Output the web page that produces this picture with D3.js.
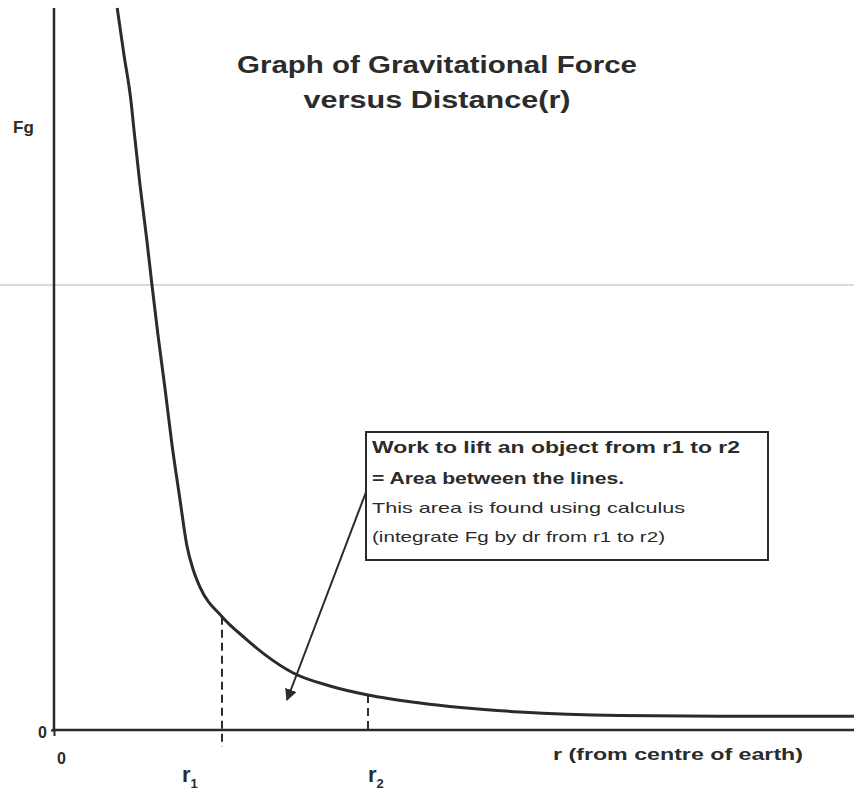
<!DOCTYPE html>
<html>
<head>
<meta charset="utf-8">
<script src="https://cdn.jsdelivr.net/npm/d3@7"></script>
<style>
  body { margin: 0; background: #fff; }
  text { font-family: "Liberation Sans", Arial, sans-serif; fill: #2b2b2b; }
</style>
</head>
<body>
<div id="chart"></div>
<script>
var width = 854,
    height = 791;

// distance r (arbitrary units) and force Fg
var rValues  = [7.9, 8.75, 9.6, 10.0, 10.75, 11.6, 12.25, 13.0, 13.9, 14.75, 15.75, 16.6, 17.4, 18.25, 21.0, 23.9, 26.4, 29.9, 34.5, 39.25, 45.75, 58.25, 70.75, 83.25, 100];
var fgValues = [100, 93.5, 87.3, 83.1, 75.5, 67.9, 61.6, 54.7, 47.1, 39.5, 31.9, 25.6, 22.2, 19.8, 15.7, 12.7, 10.4, 7.9, 6.1, 4.85, 3.75, 2.5, 2.0, 1.9, 1.9];

var marks = [{name: "1", r: 21.0, fg: 15.7, below: 17},
             {name: "2", r: 39.25, fg: 4.85, below: 0}];

var titleLines = ["Graph of Gravitational Force", "versus Distance(r)"];
var boxLines = [{t: "Work to lift an object from r1 to r2", bold: true, len: 368},
                {t: "= Area between the lines.", bold: true, len: 252},
                {t: "This area is found using calculus", bold: false, len: 313},
                {t: "(integrate Fg by dr from r1 to r2)", bold: false, len: 293}];

var x = d3.scaleLinear().domain([0, 100]).range([54, 854]);
var y = d3.scaleLinear().domain([0, 100]).range([730, 8]);

var svg = d3.select("#chart").append("svg")
    .attr("width", width)
    .attr("height", height);

// faint horizontal fold line of the scan
svg.append("line")
    .attr("x1", 0).attr("x2", width)
    .attr("y1", 285).attr("y2", 285)
    .style("stroke", "#dadada")
    .style("stroke-width", 2);

// axes
var yAxis = svg.append("g")
    .attr("transform", "translate(" + x(0) + ",0)")
    .call(d3.axisLeft(y).tickValues([0]).tickSize(3).tickPadding(4));
yAxis.select(".domain").remove();
yAxis.selectAll("text").style("font-size", "16px").style("font-weight", "bold").attr("dy", "0.45em");
yAxis.selectAll("line").style("stroke", "#2b2b2b").style("stroke-width", 2);

var xAxis = svg.append("g")
    .attr("transform", "translate(0," + y(0) + ")")
    .call(d3.axisBottom(x).tickValues([0]).tickSize(6).tickPadding(17));
xAxis.select(".domain").remove();
xAxis.selectAll("text").style("font-size", "16px").style("font-weight", "bold").attr("dx", 7);
xAxis.selectAll("line").style("stroke", "#2b2b2b").style("stroke-width", 2);

svg.append("line")
    .attr("x1", x(0)).attr("x2", x(0))
    .attr("y1", y(100)).attr("y2", y(0))
    .style("stroke", "#2b2b2b").style("stroke-width", 2.5);
svg.append("line")
    .attr("x1", x(0) - 2).attr("x2", x(100))
    .attr("y1", y(0)).attr("y2", y(0))
    .style("stroke", "#2b2b2b").style("stroke-width", 2.5);

// axis titles
svg.append("text")
    .attr("x", 13).attr("y", 133)
    .style("font-size", "17px").style("font-weight", "bold")
    .text("Fg");

svg.append("text")
    .attr("x", 553).attr("y", 760)
    .attr("textLength", 250).attr("lengthAdjust", "spacingAndGlyphs")
    .style("font-size", "16px").style("font-weight", "bold")
    .text("r (from centre of earth)");

// title
svg.selectAll(".title").data(titleLines).enter().append("text")
    .attr("class", "title")
    .attr("x", 437)
    .attr("y", function(d, i) { return 73 + i * 35; })
    .attr("text-anchor", "middle")
    .attr("textLength", function(d, i) { return i == 0 ? 400 : 267; })
    .attr("lengthAdjust", "spacingAndGlyphs")
    .style("font-size", "23px").style("font-weight", "bold")
    .text(function(d) { return d; });

// r1, r2 dashed drops
marks.forEach(function(m) {
  svg.append("line")
      .attr("x1", x(m.r)).attr("x2", x(m.r))
      .attr("y1", y(m.fg)).attr("y2", y(0) + m.below)
      .style("stroke", "#2b2b2b")
      .style("stroke-width", 2)
      .style("stroke-dasharray", "8,5");

  var lab = svg.append("text")
      .attr("x", x(m.r) + (m.name == "1" ? -40 : 0))
      .attr("y", 782)
      .style("font-size", "22px").style("font-weight", "bold");
  lab.append("tspan").text("r");
  lab.append("tspan").attr("dy", 6).style("font-size", "13px").text(m.name);
});

// the curve
var pts = rValues.map(function(r, i) { return [r, fgValues[i]]; });
var line = d3.line()
    .x(function(d) { return x(d[0]); })
    .y(function(d) { return y(d[1]); })
    .curve(d3.curveMonotoneX);

svg.append("path")
    .datum(pts)
    .attr("d", line)
    .style("fill", "none")
    .style("stroke", "#2b2b2b")
    .style("stroke-width", 3);

// annotation box
svg.append("defs").append("marker")
    .attr("id", "head")
    .attr("viewBox", "0 0 10 10")
    .attr("refX", 9).attr("refY", 5)
    .attr("markerWidth", 6).attr("markerHeight", 6)
    .attr("markerUnits", "strokeWidth")
    .attr("orient", "auto")
  .append("path")
    .attr("d", "M0,0L10,5L0,10z")
    .style("fill", "#2b2b2b");

svg.append("line")
    .attr("x1", 366).attr("y1", 492)
    .attr("x2", 287).attr("y2", 700)
    .style("stroke", "#2b2b2b")
    .style("stroke-width", 2)
    .attr("marker-end", "url(#head)");

svg.append("rect")
    .attr("x", 366).attr("y", 432)
    .attr("width", 402).attr("height", 128)
    .style("fill", "#fff")
    .style("stroke", "#2b2b2b")
    .style("stroke-width", 2);

svg.selectAll(".box").data(boxLines).enter().append("text")
    .attr("class", "box")
    .attr("x", 372)
    .attr("y", function(d, i) { return [453, 484, 513, 542][i]; })
    .attr("textLength", function(d) { return d.len; })
    .attr("lengthAdjust", "spacingAndGlyphs")
    .style("font-size", function(d) { return d.bold ? "16px" : "15px"; })
    .style("font-weight", function(d) { return d.bold ? "bold" : "normal"; })
    .text(function(d) { return d.t; });
</script>
</body>
</html>
